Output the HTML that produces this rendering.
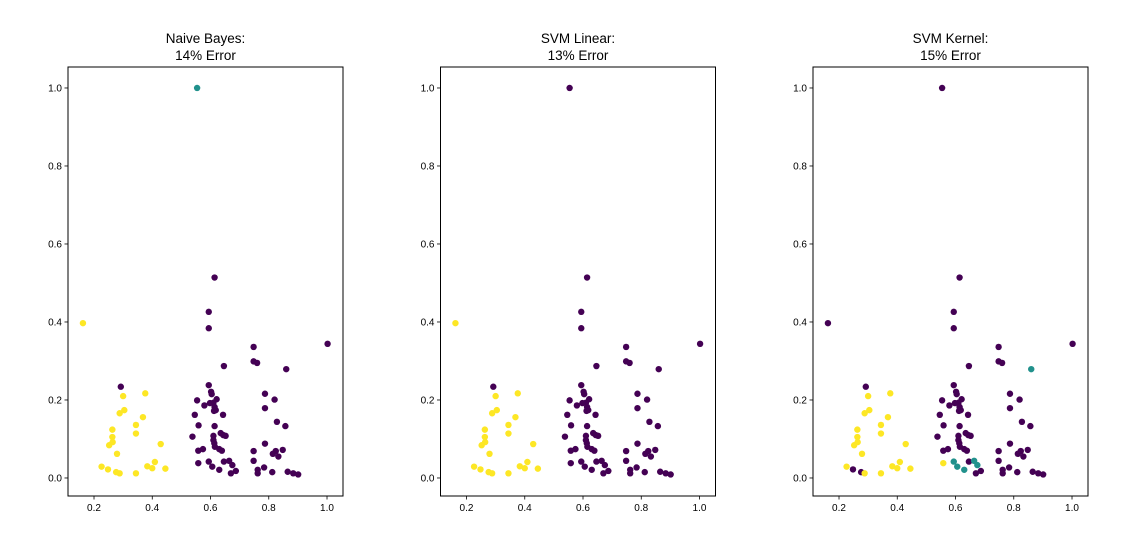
<!DOCTYPE html>
<html><head><meta charset="utf-8">
<style>
html,body{margin:0;padding:0;background:#fff;}
svg{display:block;font-family:"Liberation Sans","DejaVu Sans",sans-serif;}
</style></head>
<body>
<svg id="chart" width="1145" height="557" viewBox="0 0 1145 557" xmlns="http://www.w3.org/2000/svg"></svg>
<script>
const titles = ["Naive Bayes:", "SVM Linear:", "SVM Kernel:"];
const errors = ["14% Error", "13% Error", "15% Error"];
const xTicks = [0.2, 0.4, 0.6, 0.8, 1.0];
const yTicks = [0.0, 0.2, 0.4, 0.6, 0.8, 1.0];
const xs = [0.292,0.300,0.376,0.288,0.304,0.368,0.263,0.344,0.344,0.263,0.264,0.252,0.429,0.279,0.226,0.248,0.276,0.288,0.344,0.383,0.409,0.400,0.445,0.162,0.554,
0.614,0.594,0.594,0.748,0.748,0.760,0.646,0.594,0.602,0.604,0.554,0.621,0.610,0.598,0.579,0.614,0.618,0.612,0.546,0.643,0.559,0.614,0.538,0.610,0.610,0.613,0.615,0.630,0.639,0.635,0.644,0.652,0.558,0.574,0.748,
0.558,0.594,0.606,0.630,0.646,0.664,0.675,0.687,0.670,0.748,0.762,0.762,
1.002,0.860,0.787,0.820,0.787,0.828,0.857,0.787,0.848,0.824,0.814,0.833,0.784,0.812,0.865,0.884,0.901];
const ys = [0.234,0.210,0.217,0.166,0.174,0.156,0.124,0.136,0.114,0.105,0.092,0.084,0.087,0.062,0.029,0.022,0.015,0.012,0.012,0.030,0.041,0.025,0.024,0.397,1.0,
0.514,0.426,0.384,0.336,0.299,0.295,0.287,0.238,0.221,0.215,0.199,0.202,0.193,0.192,0.186,0.182,0.174,0.172,0.162,0.162,0.135,0.133,0.106,0.108,0.097,0.089,0.080,0.074,0.070,0.115,0.110,0.108,0.070,0.074,0.069,
0.038,0.042,0.029,0.021,0.042,0.044,0.033,0.018,0.012,0.044,0.021,0.012,
0.344,0.279,0.216,0.201,0.179,0.144,0.133,0.088,0.072,0.069,0.062,0.055,0.027,0.015,0.016,0.012,0.009];
const labelsNB = [0,2,2,2,2,2,2,2,2,2,2,2,2,2,2,2,2,2,2,2,2,2,2,2,1,
0,0,0,0,0,0,0,0,0,0,0,0,0,0,0,0,0,0,0,0,0,0,0,0,0,0,0,0,0,0,0,0,0,0,0,
0,0,0,0,0,0,0,0,0,0,0,0,
0,0,0,0,0,0,0,0,0,0,0,0,0,0,0,0,0];
const labelsLin = [0,2,2,2,2,2,2,2,2,2,2,2,2,2,2,2,2,2,2,2,2,2,2,2,0,
0,0,0,0,0,0,0,0,0,0,0,0,0,0,0,0,0,0,0,0,0,0,0,0,0,0,0,0,0,0,0,0,0,0,0,
0,0,0,0,0,0,0,0,0,0,0,0,
0,0,0,0,0,0,0,0,0,0,0,0,0,0,0,0,0];
const labelsKer = [0,2,2,2,2,2,2,2,2,2,2,2,2,2,2,0,0,2,2,2,2,2,2,0,0,
0,0,0,0,0,0,0,0,0,0,0,0,0,0,0,0,0,0,0,0,0,0,0,0,0,0,0,0,0,0,0,0,0,0,0,
2,1,1,1,0,1,1,0,0,0,0,0,
0,1,0,0,0,0,0,0,0,0,0,0,0,0,0,0,0];
const allLabels = [labelsNB, labelsLin, labelsKer];
const colors = ["#440154", "#21918c", "#fde725"];

const NS = "http://www.w3.org/2000/svg";
const svg = document.getElementById("chart");
function mk(tag, attrs, parent) {
  const e = document.createElementNS(NS, tag);
  for (const k in attrs) e.setAttribute(k, attrs[k]);
  parent.appendChild(e);
  return e;
}
const panelLefts = [68, 440.5, 813];
const W = 275, axTop = 67, axBottom = 496;
const xMin = 0.1107, xMax = 1.0549, yMin = -0.0462, yMax = 1.0538;
const panelNames = ["naive-bayes", "svm-linear", "svm-kernel"];
panelLefts.forEach((L, p) => {
  const xScale = v => L + (v - xMin) / (xMax - xMin) * W;
  const yScale = v => axBottom - (v - yMin) / (yMax - yMin) * (axBottom - axTop);
  const g = mk("g", {}, svg);
  
  
  const t1 = mk("text", {x: L + W/2, y: 43, "text-anchor": "middle", "font-size": 13.5, fill: "#000"}, g);
  t1.textContent = titles[p];
  
  
  const t2 = mk("text", {x: L + W/2, y: 60, "text-anchor": "middle", "font-size": 13.5, fill: "#000"}, g);
  t2.textContent = errors[p];
  
  
  const pts = mk("g", {}, g);
  
  
  const lab = allLabels[p];
  [0, 2, 1].forEach(cls => {
    xs.forEach((xv, i) => {
      if (lab[i] !== cls) return;
      const c = mk("circle", {cx: xScale(xv), cy: yScale(ys[i]), r: 3.2, fill: colors[lab[i]]}, pts);
      
      
    });
  });
  const frame = mk("rect", {x: L, y: axTop, width: W, height: axBottom - axTop, fill: "none", stroke: "#000", "stroke-width": 1}, g);
  
  
  xTicks.forEach(v => {
    const x = xScale(v);
    const tk = mk("line", {x1: x, x2: x, y1: axBottom, y2: axBottom + 3.5, stroke: "#000", "stroke-width": 0.8}, g);
    
    
    const tl = mk("text", {x: x, y: axBottom + 15, "text-anchor": "middle", "font-size": 10, fill: "#000"}, g);
    tl.textContent = v.toFixed(1);
    
    
  });
  yTicks.forEach(v => {
    const y = yScale(v);
    const tk = mk("line", {x1: L - 3.5, x2: L, y1: y, y2: y, stroke: "#000", "stroke-width": 0.8}, g);
    
    
    const tl = mk("text", {x: L - 6, y: y + 3.5, "text-anchor": "end", "font-size": 10, fill: "#000"}, g);
    tl.textContent = v.toFixed(1);
    
    
  });
});
</script>
</body></html>
